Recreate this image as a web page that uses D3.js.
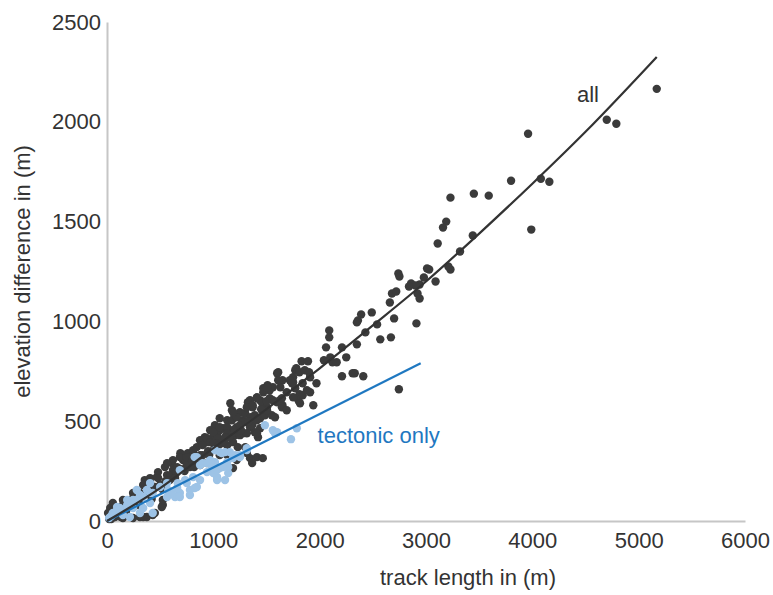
<!DOCTYPE html>
<html>
<head>
<meta charset="utf-8">
<script src="https://cdn.jsdelivr.net/npm/d3@7"></script>
<style>
  html, body { margin: 0; padding: 0; background: #fff; }
  svg text { font-family: "Liberation Sans", Arial, Helvetica, sans-serif; fill: #333; }
</style>
</head>
<body>
<svg id="chart" width="773" height="595"></svg>
<script>
// ---------- data ----------
const xTicks = [0, 1000, 2000, 3000, 4000, 5000, 6000];
const yTicks = [0, 500, 1000, 1500, 2000, 2500];

// all tracks (dark points): track length (m)
const allX = [5170,4700,4790,3960,3800,4080,4160,3230,3450,3590,3990,3440,3190,3160,3110,3320,3230,3210,3030,2980,
  3090,2940,2940,3010,2740,2750,2860,2900,2840,2920,2680,2720,2660,2910,2700,2540,2490,2390,2360,2350,
  2570,2670,2430,2090,2090,2350,2060,2210,2250,2040,2100,2120,2160,2210,2310,2330,2410,2745,1830,1890,
  1770,1780,1810,1860,1900,1750,1750,1840,1970,1910,1650,1630,1690,1770,1910,1810,1940,1800,1650,1600,
  1610,1470,1530,1560,1410,1440,1345,1530,1600,1645,1690,1750,1610,1720,1510,1470,1840,1325,1410,1460,
  1370,1505,1625,1160,1175,1250,1300,1200,1270,1315,1390,1440,1485,1550,1580,1060,1130,1015,1090,1155,
  1220,1200,1280,1345,1390,1440,1420,970,1000,920,875,940,1060,1130,1185,1230,1300,845,810,875,
  1000,1060,1130,1315,1345,1410,1465,1365,690,715,780,875,940,1035,1185,1220,525,450,375,310,
  1815,1880,1740,1505,95,150,245,310,355,405,470,480,545,610,620,715,760,940,970,1035,
  1060,1130,1175,1220,1315,1370,1185,1200,1250,1315,1365,1410,1410,1505,1560,1645,30,10,75,150,
  245,340,430,515,525,55,150,245,340,405,480,565,620,685,750,810,1000,1060,1130,1000,
  900,845,660,780,565,20,60,
  200,250,300,350,400,450,500,550,600,650,700,750,800,850,900,950,1050,1100,1150,1200,
  1250,1300,1350,1450,1500,180,280,420,520,590,640,730,820,880,960,1020,1080,1110,1260,1330,
  40,110,130,60];
// all tracks (dark points): elevation difference (m)
const allY = [2165,2010,1990,1940,1705,1715,1700,1620,1640,1630,1460,1430,1500,1470,1390,1350,1260,1275,1260,1220,
  1200,1185,1115,1265,1240,1225,1190,1180,1175,1140,1140,1150,1095,990,1015,985,1045,1035,1005,995,
  910,920,945,955,920,885,870,870,820,805,820,795,795,725,740,740,725,660,800,800,
  755,765,745,755,745,720,695,690,690,720,705,670,645,665,645,635,580,605,580,740,
  705,665,655,670,620,605,605,615,595,570,555,620,745,705,680,645,630,595,615,590,
  570,570,605,590,555,545,540,520,505,495,530,515,530,530,520,515,505,480,465,455,
  470,430,440,470,445,465,420,455,420,420,405,395,405,380,395,370,370,370,345,330,
  355,330,330,340,315,320,315,290,340,305,290,280,290,265,265,305,80,40,20,20,
  590,655,690,670,65,80,115,140,205,215,220,245,270,290,305,315,340,415,395,430,
  455,470,505,520,570,580,545,445,430,440,480,505,440,555,605,615,65,40,20,15,
  15,20,30,70,105,90,105,140,180,195,215,230,255,320,320,355,445,470,440,390,
  380,305,270,270,290,10,30,
  70,95,105,130,150,170,180,200,230,240,260,280,300,300,330,350,380,400,420,460,
  480,500,520,560,600,50,80,110,160,205,215,250,270,300,330,360,390,420,455,500,
  10,30,20,50];

// tectonic only (light blue points)
const tecX = [1485,1580,1560,1730,1785,1600,1315,1250,1205,1155,1080,1015,970,825,875,1315,1250,1185,1130,1140,
  1060,1035,1000,940,875,845,780,685,640,565,575,665,735,810,845,900,970,1060,310,375,
  245,190,120,75,95,190,280,405,430,1015,1110,940,985,1035,1090,1140,1110,1035,685,750,
  660,610,685,780,825,565,500,405,340,280,235,190,120,95,55,245,340,405,430,310,
  215,150,20,40];
const tecY = [480,440,455,410,465,445,355,330,330,345,340,295,305,320,280,365,320,315,295,270,
  265,220,240,245,205,170,155,140,120,120,155,190,205,220,320,290,295,345,130,155,
  105,70,55,40,70,105,155,190,140,355,345,290,270,255,270,240,205,205,255,190,
  165,145,120,130,165,190,170,140,120,105,90,80,65,55,40,65,65,90,40,40,
  20,30,15,25];

const trendAllX = [0, 500, 1000, 1500, 2000, 2500, 3000, 3500, 4000, 4500, 5170];
const trendAllY = [0, 165, 365, 560, 765, 980, 1200, 1440, 1690, 1950, 2325];
const trendTecX = [0, 2950];
const trendTecY = [0, 790];

const labelAll = "all";
const labelTec = "tectonic only";
const xTitle = "track length in (m)";
const yTitle = "elevation difference in (m)";

// ---------- chart ----------
const svg = d3.select("#chart");
const m = { left: 107, right: 28, top: 22, bottom: 74 };
const W = 773, H = 595;

const x = d3.scaleLinear().domain([0, 6000]).range([m.left, W - m.right]);
const y = d3.scaleLinear().domain([0, 2500]).range([H - m.bottom, m.top]);

const fontSize = 22;

// axes
const xAxis = svg.append("g")
  .attr("transform", `translate(0,${y(0)})`)
  .call(d3.axisBottom(x).tickValues(xTicks).tickSize(0).tickPadding(11).tickFormat(d3.format("d")));
const yAxis = svg.append("g")
  .attr("transform", `translate(${x(0)},0)`)
  .call(d3.axisLeft(y).tickValues(yTicks).tickSize(0).tickPadding(6).tickFormat(d3.format("d")));

[xAxis, yAxis].forEach(a => {
  a.select(".domain").attr("stroke", "#c6c6c6").attr("stroke-width", 2);
  a.selectAll("text").style("font-size", fontSize + "px").attr("fill", "#333")
    .style("font-family", '"Liberation Sans", Arial, sans-serif');
});

// axis titles
svg.append("text")
  .attr("x", (x(0) + x(6000)) / 2 + 42)
  .attr("y", H - 10)
  .attr("text-anchor", "middle")
  .style("font-size", fontSize + "px")
  .text(xTitle);
svg.append("text")
  .attr("transform", `translate(30,${(y(0) + y(2500)) / 2})rotate(-90)`)
  .attr("text-anchor", "middle")
  .style("font-size", fontSize + "px")
  .text(yTitle);

// points
const allData = allX.map((d, i) => ({ x: d, y: allY[i] }));
const tecData = tecX.map((d, i) => ({ x: d, y: tecY[i] }));

svg.append("g").selectAll("circle").data(allData).join("circle")
  .attr("cx", d => x(d.x)).attr("cy", d => y(d.y)).attr("r", 4.2)
  .attr("fill", "#3b3b3b");
svg.append("g").selectAll("circle").data(tecData).join("circle")
  .attr("cx", d => x(d.x)).attr("cy", d => y(d.y)).attr("r", 4.2)
  .attr("fill", "#9dc3e6");

// trend lines
const line = d3.line().x(d => x(d[0])).y(d => y(d[1])).curve(d3.curveMonotoneX);
svg.append("path")
  .datum(trendTecX.map((d, i) => [d, trendTecY[i]]))
  .attr("d", line).attr("fill", "none").attr("stroke", "#1f78c1").attr("stroke-width", 2.2);
svg.append("path")
  .datum(trendAllX.map((d, i) => [d, trendAllY[i]]))
  .attr("d", line).attr("fill", "none").attr("stroke", "#333").attr("stroke-width", 2.2);

// series labels
svg.append("text")
  .attr("x", x(4420)).attr("y", y(2100))
  .style("font-size", fontSize + "px").attr("fill", "#333")
  .text(labelAll);
svg.append("text")
  .attr("x", x(1980)).attr("y", y(390))
  .style("font-size", fontSize + "px").style("fill", "#1f78c1")
  .text(labelTec);
</script>
</body>
</html>
